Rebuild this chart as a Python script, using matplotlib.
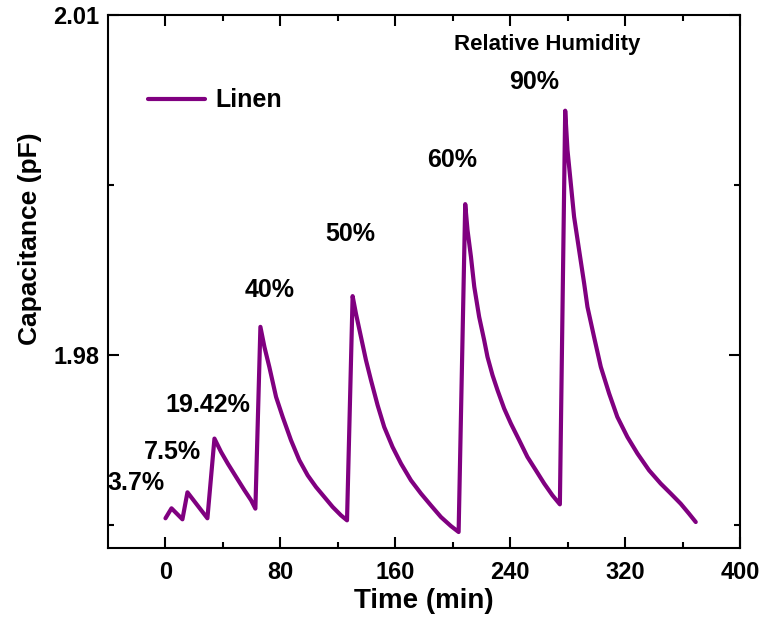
import matplotlib
matplotlib.use('Agg')
import matplotlib.pyplot as plt
from matplotlib.ticker import FixedLocator

plt.rcParams['font.family'] = ['Liberation Sans', 'DejaVu Sans']
plt.rcParams['font.weight'] = 'bold'

# Linen capacitance response (time in min, capacitance in pF)
time_min = [0, 4.2, 11.8, 15.3, 29.2,
            34.1, 38.7, 43.4, 49.2, 55.0, 59.6, 62.6,
            66.1, 68.9, 72.3, 77.0, 81.6, 87.4, 93.2, 99.0, 104.8, 110.6, 116.4, 122.2, 126.4,
            130.3, 132.6, 136.1, 139.6, 143.1, 147.7, 152.3, 158.1, 164.0, 170.9, 177.9,
            184.8, 191.8, 198.7, 204.1,
            208.7, 210.3, 212.7, 215.0, 218.4, 221.9, 224.2, 227.7, 231.2, 235.8, 240.5,
            246.3, 252.0, 257.9, 263.7, 269.4, 274.6,
            278.3, 279.9, 282.2, 284.5, 288.0, 291.5, 293.8, 298.4, 303.1, 308.9, 314.6,
            321.6, 328.6, 336.7, 344.8, 351.8, 358.7, 364.5, 369.2]
capacitance = [1.96562, 1.96650, 1.96553, 1.96791, 1.96562,
               1.97265, 1.97147, 1.97044, 1.96926, 1.96809, 1.96721, 1.96647,
               1.98250, 1.98073, 1.97897, 1.97632, 1.97456, 1.97250, 1.97074, 1.96941,
               1.96838, 1.96750, 1.96662, 1.96588, 1.96544,
               1.98521, 1.98368, 1.98162, 1.97956, 1.97779, 1.97559, 1.97367, 1.97191,
               1.97044, 1.96897, 1.96780, 1.96676, 1.96573, 1.96494, 1.96441,
               1.99332, 1.99103, 1.98867, 1.98603, 1.98338, 1.98132, 1.97985, 1.97824,
               1.97691, 1.97530, 1.97397, 1.97250, 1.97103, 1.96985, 1.96868, 1.96765, 1.96685,
               2.00156, 1.99809, 1.99515, 1.99220, 1.98926, 1.98633, 1.98426, 1.98161,
               1.97897, 1.97662, 1.97456, 1.97279, 1.97133, 1.96985, 1.96868, 1.96780,
               1.96691, 1.96603, 1.96529]

rh_labels = ['3.7%', '7.5%', '19.42%', '40%', '50%', '60%', '90%']
rh_x = [-20.2, 4.9, 29.2, 72.3, 128.7, 199.7, 256.7]
rh_y = [1.96871, 1.97144, 1.97559, 1.98574, 1.99068, 1.99721, 2.00409]

x_major = [0, 80, 160, 240, 320, 400]
x_minor = [40, 120, 200, 280, 360]
y_major = [1.98, 2.01]
y_minor = [1.965, 1.995]

fig = plt.figure(figsize=(7.65, 6.19), dpi=100)
ax = fig.add_axes([0.1412, 0.1147, 0.8261, 0.8611])

ax.plot(time_min, capacitance, color='purple', lw=3, label='Linen',
        solid_joinstyle='round', solid_capstyle='round')

for lab, x, y in zip(rh_labels, rh_x, rh_y):
    ax.text(x, y, lab, fontsize=18, fontweight='bold', ha='center', va='center')
ax.text(265.7, 2.00744, 'Relative Humidity', fontsize=16, fontweight='bold',
        ha='center', va='center')

ax.set_xlim(-40, 400)
ax.set_ylim(1.963, 2.01)
ax.xaxis.set_major_locator(FixedLocator(x_major))
ax.xaxis.set_minor_locator(FixedLocator(x_minor))
ax.yaxis.set_major_locator(FixedLocator(y_major))
ax.yaxis.set_minor_locator(FixedLocator(y_minor))
ax.set_yticklabels(['1.98', '2.01'])

ax.tick_params(which='both', direction='in', top=True, right=True, width=1.5,
               labelsize=17)
ax.tick_params(axis='x', pad=9)
ax.tick_params(axis='y', pad=6)
ax.tick_params(which='major', length=8)
ax.tick_params(which='minor', length=4)
for lbl in ax.get_xticklabels() + ax.get_yticklabels():
    lbl.set_fontweight('bold')
for sp in ax.spines.values():
    sp.set_linewidth(1.5)

ax.set_xlabel('Time (min)', fontsize=20, fontweight='bold', labelpad=3)
ax.set_ylabel('Capacitance (pF)', fontsize=19, fontweight='bold')
ax.yaxis.set_label_coords(-0.104, 0.58)

leg = ax.legend(loc='upper left', bbox_to_anchor=(0.035, 0.895), frameon=False,
                prop={'size': 18, 'weight': 'bold'}, handlelength=2.3, handletextpad=0.4,
                borderpad=0.2)

fig.savefig('out.png', dpi=100)
